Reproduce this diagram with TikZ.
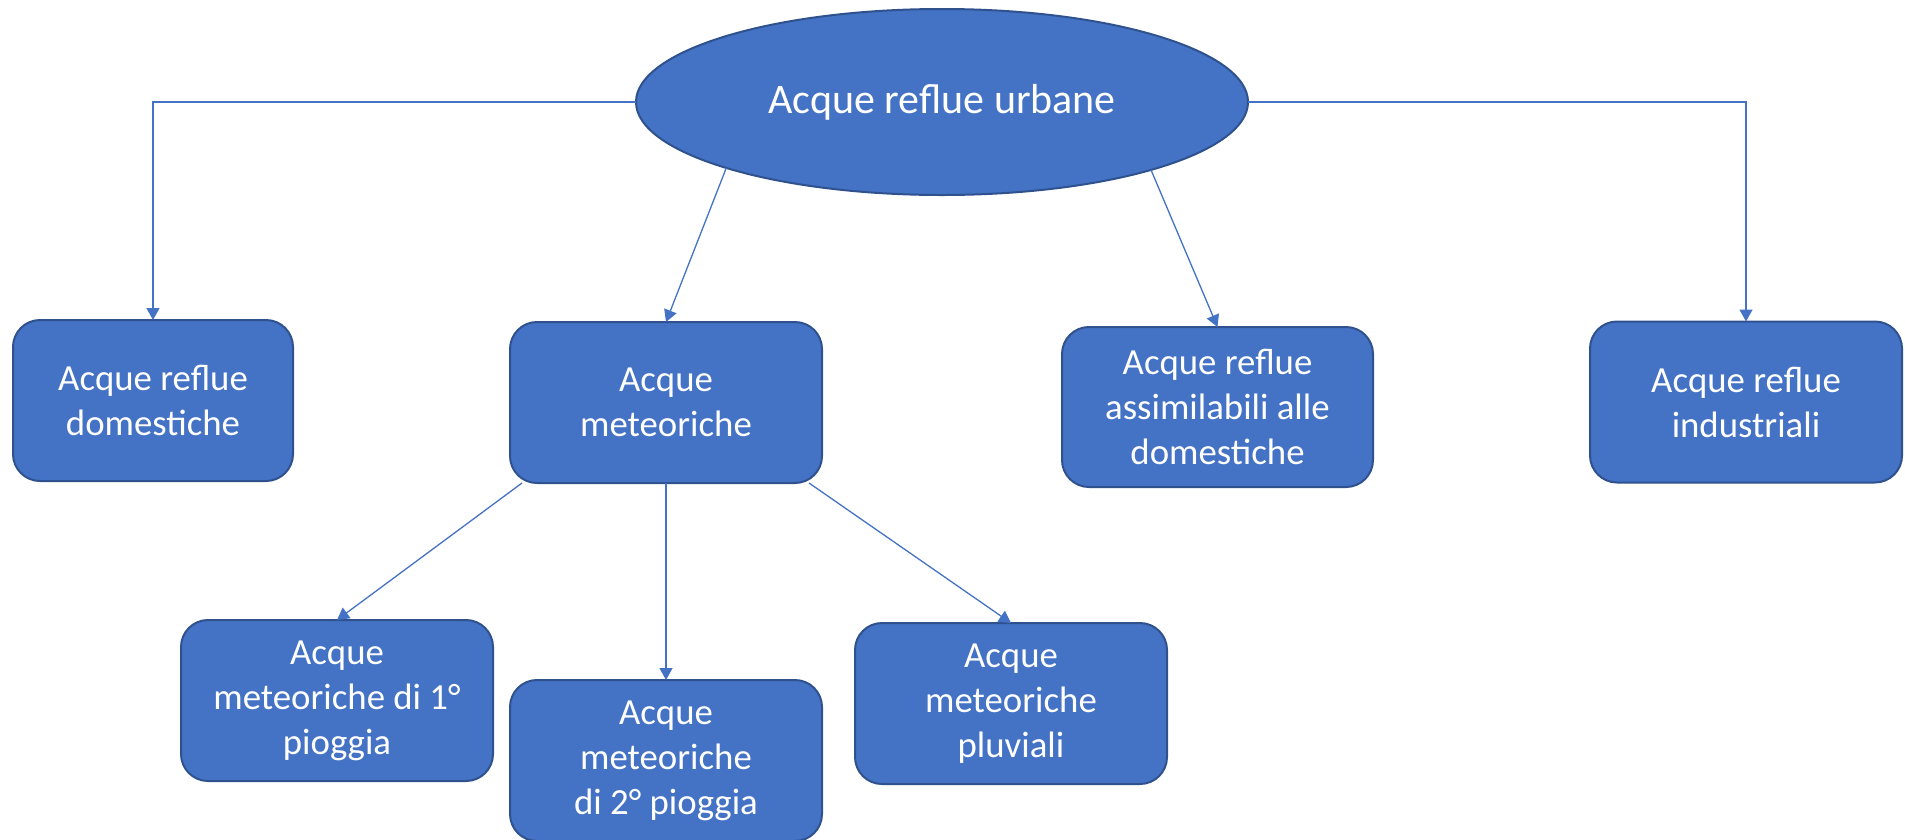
\documentclass[tikz,border=0pt]{standalone}
\usepackage{fontspec}
\setmainfont{Carlito}
\usetikzlibrary{arrows.meta,shapes.geometric}
\definecolor{boxfill}{HTML}{4472C4}
\definecolor{boxline}{HTML}{2F528F}
\definecolor{connline}{HTML}{4472C4}
\tikzset{
  box/.style={draw=boxline, fill=boxfill, line width=2pt, rounded corners=27pt,
    minimum height=161pt, inner sep=0pt, outer sep=0pt, align=center,
    text=white, font=\fontsize{36.8}{45}\selectfont},
  topell/.style={ellipse, draw=boxline, fill=boxfill, line width=2pt,
    minimum width=612pt, minimum height=186pt, inner sep=0pt, outer sep=0pt,
    text=white, font=\fontsize{42}{50}\selectfont},
  conn/.style={draw=connline, line width=1.3pt, -{Triangle[width=13pt,length=12pt]}}
}
\begin{document}
\begin{tikzpicture}[x=1pt,y=-1pt]
\useasboundingbox (0,0) rectangle (1905,839);
\node[topell] (E) at (942,102) {Acque reflue urbane};
\node[box, minimum width=280pt] (D) at (153,400.5) {Acque reflue\\domestiche};
\node[box, minimum width=312pt] (M) at (666,402.5) {Acque\\meteoriche};
\node[box, minimum width=311pt, minimum height=160pt] (A) at (1217.5,407) {Acque reflue\\assimilabili alle\\domestiche};
\node[box, minimum width=312pt] (I) at (1746,402) {Acque reflue\\industriali};
\node[box, minimum width=312pt] (P1) at (337,700.5) {Acque\\meteoriche di 1°\\pioggia};
\node[box, minimum width=312pt] (P2) at (666,760.5) {Acque\\meteoriche\\di 2° pioggia};
\node[box, minimum width=312pt] (P3) at (1011,703.5) {Acque\\meteoriche\\pluviali};
\draw[conn] (E.west) -| (D.north);
\draw[conn] (E.east) -| (I.north);
\draw[conn] (E.197.5) -- (M.north);
\draw[conn] (E.342.8) -- (A.north);
\draw[conn] ([xshift=12pt]M.south west) -- (P1.north);
\draw[conn] (M.south) -- (P2.north);
\draw[conn] ([xshift=-13pt]M.south east) -- (P3.north);
\end{tikzpicture}
\end{document}
